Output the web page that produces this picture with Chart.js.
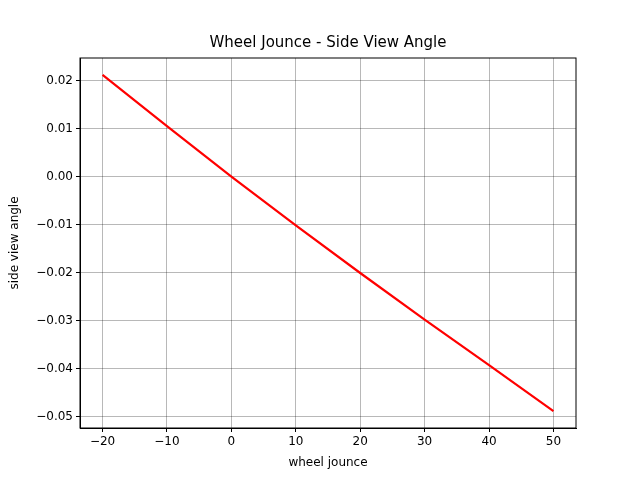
<!DOCTYPE html>
<html><head><meta charset="utf-8">
<script src="https://cdn.jsdelivr.net/npm/chart.js@4"></script>
<style>html,body{margin:0;padding:0;background:#fff}#w{width:640px;height:480px}</style>
</head><body><div id="w"><canvas id="c"></canvas></div>
<script>
const jounce = [-20, -10, 0, 10, 20, 30, 40, 50];
const angle = [0.0212, 0.0105, 0.0, -0.0102, -0.0201, -0.0298, -0.0393, -0.0489];
const xTicks = [-20, -10, 0, 10, 20, 30, 40, 50];
const yTicks = [-0.05, -0.04, -0.03, -0.02, -0.01, 0, 0.01, 0.02];
const chartTitle = 'Wheel Jounce - Side View Angle';
const fmt = (v, d) => (v < 0 ? '\u2212' : '') + Math.abs(v).toFixed(d);
const frame = { id: 'frame', afterDraw(ch) { const a = ch.chartArea, x = ch.ctx; x.save(); x.strokeStyle = '#000'; x.lineWidth = 1; x.strokeRect(a.left, a.top, a.right - a.left, a.bottom - a.top);
  x.fillStyle = '#000'; x.font = '15px "DejaVu Sans"'; x.textAlign = 'center'; x.textBaseline = 'middle'; x.fillText(chartTitle, (a.left + a.right) / 2, 43); x.restore(); } };
const font = { family: 'DejaVu Sans', size: 12 };
new Chart(document.getElementById('c'), {
  type: 'scatter',
  data: { datasets: [{ data: jounce.map((v, i) => ({ x: v, y: angle[i] })), showLine: true, borderColor: '#ff0000', borderWidth: 2.2, pointRadius: 0, tension: 0 }] },
  options: {
    responsive: true, maintainAspectRatio: false, animation: false,
    layout: { padding: { left: 4, right: 64, top: 58, bottom: 0 } },
    plugins: { legend: { display: false }, tooltip: { enabled: false }, title: { display: false } },
    scales: {
      x: { type: 'linear', min: -23.5, max: 53.5,
        afterBuildTicks: s => { s.ticks = xTicks.map(v => ({ value: v })); },
        afterFit: s => { s.height = 52; },
        ticks: { color: '#000', font, callback: v => fmt(v, 0), padding: 3, maxRotation: 0 },
        grid: { color: 'rgba(0,0,0,0.28)', tickColor: '#000', tickLength: 4 },
        border: { color: '#000' },
        title: { display: true, text: 'wheel jounce', color: '#000', font, padding: { top: 0, bottom: 10 } } },
      y: { min: -0.0524, max: 0.0247,
        afterBuildTicks: s => { s.ticks = yTicks.map(v => ({ value: v })); },
        afterFit: s => { s.width = 76; },
        ticks: { color: '#000', font, callback: v => fmt(v, 2), padding: 3 },
        grid: { color: 'rgba(0,0,0,0.28)', tickColor: '#000', tickLength: 4 },
        border: { color: '#000' },
        title: { display: true, text: 'side view angle', color: '#000', font, padding: { bottom: 4 } } }
    }
  },
  plugins: [frame]
});
</script></body></html>
